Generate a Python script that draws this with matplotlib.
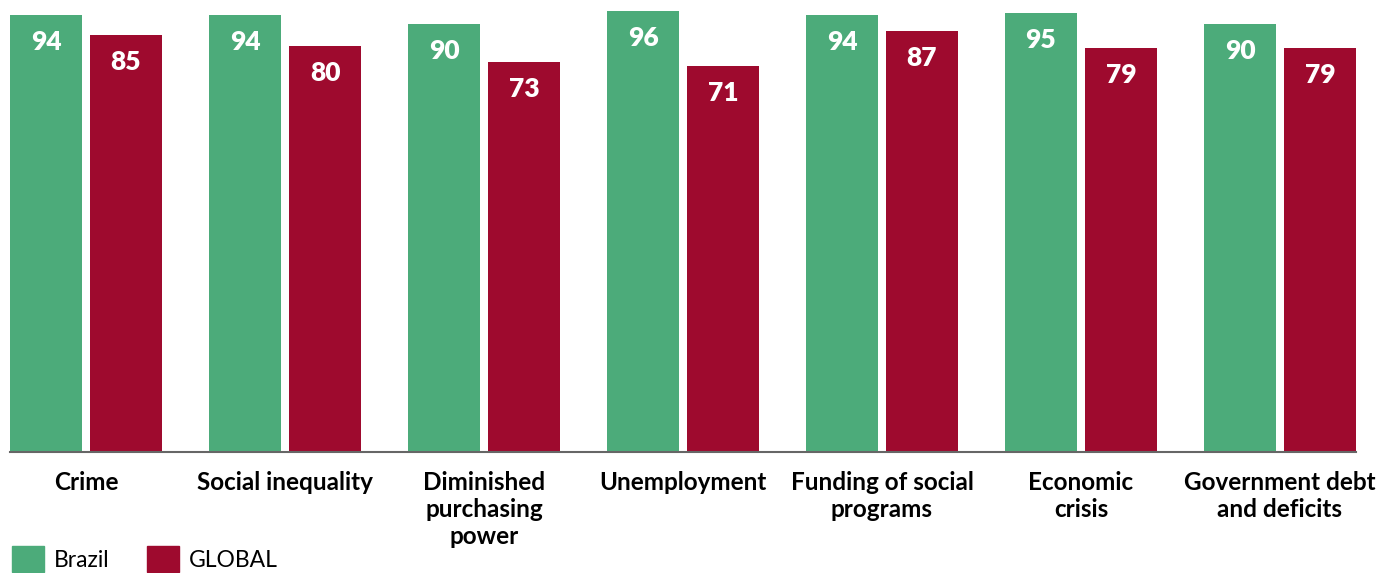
import matplotlib.pyplot as plt
from matplotlib.patches import Patch
import numpy as np

# data
categories = ["Crime", "Social inequality", "Diminished\npurchasing\npower",
              "Unemployment", "Funding of social\nprograms", "Economic\ncrisis",
              "Government debt\nand deficits"]
brazil = [94, 94, 90, 96, 94, 95, 90]
global_vals = [85, 80, 73, 71, 87, 79, 79]

green = "#4CAB7A"
red = "#9E0A2E"
y_min, y_max = -102.8, 100.8

fig = plt.figure(figsize=(13.8, 5.73), dpi=100)
ax = fig.add_axes([10 / 1380, 121 / 573, 1346 / 1380, 452 / 573])

x = np.arange(len(categories))
off = 0.201
w = 0.362
b1 = ax.bar(x - off, np.array(brazil) - y_min, w, bottom=y_min, color=green)
b2 = ax.bar(x + off, np.array(global_vals) - y_min, w, bottom=y_min, color=red)

for bars, vals in [(b1, brazil), (b2, global_vals)]:
    for bar, v in zip(bars, vals):
        ax.annotate(str(v), (bar.get_x() + bar.get_width() / 2, v),
                    xytext=(0, -19.5), textcoords="offset points",
                    ha="center", va="center", color="white",
                    fontsize=19, fontweight="heavy", family="Lato")

ax.set_xlim(-0.382, len(categories) - 1 + 0.382)
ax.set_ylim(y_min, y_max)
ax.set_xticks(x)
ax.set_xticklabels(categories, fontsize=17.5, fontweight="bold", family="Lato",
                   linespacing=1.2)
ax.tick_params(axis="x", length=0, pad=14)
ax.set_yticks([])
for s in ["top", "left", "right"]:
    ax.spines[s].set_visible(False)
ax.spines["bottom"].set_color("#666666")
ax.spines["bottom"].set_linewidth(1.5)

handles = [Patch(color=green, label="Brazil"), Patch(color=red, label="GLOBAL")]
fig.legend(handles=handles, loc="lower left", bbox_to_anchor=(-0.003, -0.027),
           ncol=2, frameon=False, prop={"family": "Lato", "size": 16.5},
           handlelength=1.4, handleheight=1.4, handletextpad=0.45,
           columnspacing=1.6, borderaxespad=0.3)

fig.savefig("out.png", dpi=100)
